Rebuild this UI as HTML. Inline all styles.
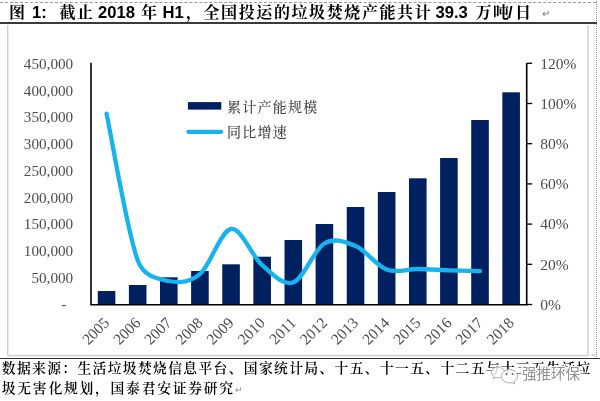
<!DOCTYPE html>
<html><head><meta charset="utf-8"><title>图 1</title>
<style>
html,body{margin:0;padding:0;background:#fff;}
body{width:600px;height:401px;position:relative;overflow:hidden;font-family:"Liberation Sans","Noto Serif CJK SC",sans-serif;}
.abs{position:absolute;white-space:nowrap;}
.t{position:absolute;top:2.3px;height:21px;line-height:21px;font-weight:bold;font-size:16.6px;color:#000;white-space:nowrap;}
.t.c{font-family:"Liberation Sans","Noto Serif CJK SC",serif;font-size:16px;letter-spacing:1.6px;font-weight:700;top:2px}
.src{position:absolute;left:2.3px;font-family:"Liberation Serif","Noto Serif CJK SC",serif;font-weight:600;font-size:13.8px;letter-spacing:1.48px;color:#000;white-space:nowrap;line-height:18px}
</style></head><body>
<!-- frame lines -->
<div class="abs" style="left:0;top:1.5px;width:596px;height:0;border-top:1px dashed #999"></div>
<div class="abs" style="left:596px;top:1px;width:0;height:356px;border-left:1px dotted #999"></div>
<div class="abs" style="left:0;top:22.3px;width:597px;height:1.8px;background:#3a3a3a"></div>
<svg class="abs" style="left:0;top:0" width="600" height="401"><path d="M7.700,25 V355.500 H588 V25" fill="none" stroke="#cfcfcf" stroke-width="1.400"/><path d="M591.500,354 l2,2 l2,-2" fill="none" stroke="#999" stroke-width="0.800"/></svg>
<div class="abs" style="left:0;top:357.6px;width:600px;height:1.4px;background:#333"></div>
<!-- title -->
<span class="t c" style="left:9px">图</span>
<span class="t" style="left:32px">1:</span>
<span class="t c" style="left:59.5px">截止</span>
<span class="t" style="left:98px">2018</span>
<span class="t c" style="left:141px">年</span>
<span class="t" style="left:162.5px">H1</span>
<span class="t c" style="left:186px">，</span>
<span class="t c" style="left:203.5px">全国投运的垃圾焚烧产能共计</span>
<span class="t" style="left:435.5px">39.3</span>
<span class="t c" style="left:475.5px">万吨</span>
<span class="t" style="left:508px">/</span>
<span class="t c" style="left:515px">日</span>
<span class="abs" style="left:541.5px;top:9px;font-size:10px;color:#777;line-height:10px">↵</span>
<svg width="600" height="401" viewBox="0 0 600 401" style="position:absolute;left:0;top:0">
<rect x="97.76" y="291.00" width="17.60" height="13.70" fill="#002060"/>
<rect x="128.88" y="285.00" width="17.60" height="19.70" fill="#002060"/>
<rect x="160.00" y="277.30" width="17.60" height="27.40" fill="#002060"/>
<rect x="191.12" y="271.00" width="17.60" height="33.70" fill="#002060"/>
<rect x="222.25" y="264.30" width="17.60" height="40.40" fill="#002060"/>
<rect x="253.37" y="256.70" width="17.60" height="48.00" fill="#002060"/>
<rect x="284.49" y="240.00" width="17.60" height="64.70" fill="#002060"/>
<rect x="315.61" y="224.00" width="17.60" height="80.70" fill="#002060"/>
<rect x="346.73" y="207.00" width="17.60" height="97.70" fill="#002060"/>
<rect x="377.85" y="192.00" width="17.60" height="112.70" fill="#002060"/>
<rect x="408.98" y="178.30" width="17.60" height="126.40" fill="#002060"/>
<rect x="440.10" y="158.00" width="17.60" height="146.70" fill="#002060"/>
<rect x="471.22" y="120.00" width="17.60" height="184.70" fill="#002060"/>
<rect x="502.34" y="92.30" width="17.60" height="212.40" fill="#002060"/>
<path d="M106.56,113.60 C111.75,138.03 127.31,232.30 137.68,260.20 C144.20,277.74 158.43,278.67 168.80,281.00 C179.18,283.33 189.55,282.87 199.93,274.20 C210.30,265.53 220.67,230.50 231.05,229.00 C241.42,227.50 251.79,256.30 262.17,265.20 C272.54,274.10 282.92,286.02 293.29,282.40 C303.66,278.78 314.04,249.57 324.41,243.50 C334.78,237.43 345.16,241.67 355.53,246.00 C365.91,250.33 376.28,265.67 386.65,269.50 C397.03,273.33 407.40,268.87 417.78,269.00 C428.15,269.13 438.52,269.93 448.90,270.30 C459.27,270.67 474.83,271.05 480.02,271.20" fill="none" stroke="#17b3ef" stroke-width="4.3" stroke-linecap="round" stroke-linejoin="round"/>
<path d="M91.00,62.80 V304.70 H526.70 V63.30" fill="none" stroke="#000" stroke-width="1.6"/>
<path d="M526.70,63.30 h5.5" stroke="#000" stroke-width="1.3"/>
<path d="M526.70,103.50 h5.5" stroke="#000" stroke-width="1.3"/>
<path d="M526.70,143.70 h5.5" stroke="#000" stroke-width="1.3"/>
<path d="M526.70,183.90 h5.5" stroke="#000" stroke-width="1.3"/>
<path d="M526.70,224.10 h5.5" stroke="#000" stroke-width="1.3"/>
<path d="M526.70,264.30 h5.5" stroke="#000" stroke-width="1.3"/>
<path d="M526.70,304.50 h5.5" stroke="#000" stroke-width="1.3"/>
<g font-family="'Liberation Serif',serif" font-size="15.5" fill="#4d4d4d">
<text x="73.2" y="68.80" text-anchor="end" font-size="15.2">450,000</text>
<text x="73.2" y="95.56" text-anchor="end" font-size="15.2">400,000</text>
<text x="73.2" y="122.32" text-anchor="end" font-size="15.2">350,000</text>
<text x="73.2" y="149.08" text-anchor="end" font-size="15.2">300,000</text>
<text x="73.2" y="175.84" text-anchor="end" font-size="15.2">250,000</text>
<text x="73.2" y="202.60" text-anchor="end" font-size="15.2">200,000</text>
<text x="73.2" y="229.36" text-anchor="end" font-size="15.2">150,000</text>
<text x="73.2" y="256.12" text-anchor="end" font-size="15.2">100,000</text>
<text x="73.2" y="282.88" text-anchor="end" font-size="15.2">50,000</text>
<text x="66.5" y="309.40" text-anchor="end">-</text>
<text x="540.2" y="68.60">120%</text>
<text x="540.2" y="108.80">100%</text>
<text x="540.2" y="149.00">80%</text>
<text x="540.2" y="189.20">60%</text>
<text x="540.2" y="229.40">40%</text>
<text x="540.2" y="269.60">20%</text>
<text x="540.2" y="309.80">0%</text>
<text transform="translate(110.30,323.70) rotate(-45)" text-anchor="end">2005</text>
<text transform="translate(141.42,323.70) rotate(-45)" text-anchor="end">2006</text>
<text transform="translate(172.54,323.70) rotate(-45)" text-anchor="end">2007</text>
<text transform="translate(203.66,323.70) rotate(-45)" text-anchor="end">2008</text>
<text transform="translate(234.79,323.70) rotate(-45)" text-anchor="end">2009</text>
<text transform="translate(265.91,323.70) rotate(-45)" text-anchor="end">2010</text>
<text transform="translate(297.03,323.70) rotate(-45)" text-anchor="end">2011</text>
<text transform="translate(328.15,323.70) rotate(-45)" text-anchor="end">2012</text>
<text transform="translate(359.27,323.70) rotate(-45)" text-anchor="end">2013</text>
<text transform="translate(390.39,323.70) rotate(-45)" text-anchor="end">2014</text>
<text transform="translate(421.51,323.70) rotate(-45)" text-anchor="end">2015</text>
<text transform="translate(452.64,323.70) rotate(-45)" text-anchor="end">2016</text>
<text transform="translate(483.76,323.70) rotate(-45)" text-anchor="end">2017</text>
<text transform="translate(514.88,323.70) rotate(-45)" text-anchor="end">2018</text>
</g>
<rect x="187.900" y="102.100" width="33.400" height="7.500" fill="#002060"/>
<path d="M188.400,131.800 H221" stroke="#17b3ef" stroke-width="4.3" stroke-linecap="round"/>
<g font-family="'Liberation Serif','Noto Serif CJK SC',serif" font-size="14" fill="#444" letter-spacing="1.25" font-weight="500">
<text x="227" y="111.5">累计产能规模</text>
<text x="227" y="137">同比增速</text>
</g>
</svg>
<!-- source -->
<div class="src" style="top:359.6px;letter-spacing:1.33px;left:1.8px">数据来源：生活垃圾焚烧信息平台、国家统计局、十五、十一五、十二五与十三五生活垃</div>
<div class="src" style="top:379.8px;letter-spacing:1.74px;left:1.8px">圾无害化规划，国泰君安证券研究<span style="font-size:9px;color:#888;font-weight:normal;letter-spacing:0">↵</span></div>
<!-- watermark -->
<svg class="abs" style="left:488px;top:362px" width="34" height="26" viewBox="488 362 34 26">
<path d="M498,367 c-3.6,0 -6.5,2.4 -6.5,5.4 c0,1.7 0.9,3.2 2.4,4.2 l-0.6,2 l2.3,-1.2 c0.8,0.2 1.6,0.4 2.4,0.4 c3.6,0 6.5,-2.4 6.5,-5.4 c0,-3 -2.9,-5.4 -6.5,-5.4z" fill="#fff" fill-opacity="0.85" stroke="#a8a8a8" stroke-width="1"/>
<path d="M509.500,369.500 c-4.400,0 -8,3 -8,6.700 c0,3.700 3.600,6.700 8,6.700 c0.900,0 1.800,-0.100 2.600,-0.400 l2.600,1.400 l-0.700,-2.300 c2.100,-1.200 3.500,-3.200 3.500,-5.400 c0,-3.700 -3.600,-6.700 -8,-6.700z" fill="#fff" fill-opacity="0.9" stroke="#a8a8a8" stroke-width="1"/>
<circle cx="506.500" cy="374" r="0.900" fill="#555"/><circle cx="512.500" cy="374" r="0.900" fill="#555"/>
</svg>
<div class="abs" style="left:522px;top:364px;font-family:'Liberation Sans','Noto Sans CJK SC',sans-serif;font-size:14.5px;line-height:20px;color:#909090;text-shadow:-1px -1px 0 #fff,1px -1px 0 #fff,-1px 1px 0 #fff,1px 1px 0 #fff,0 1.5px 0 #fff,0 -1.5px 0 #fff,1.5px 0 0 #fff,-1.5px 0 0 #fff;letter-spacing:0">强推环保</div>
</body></html>
